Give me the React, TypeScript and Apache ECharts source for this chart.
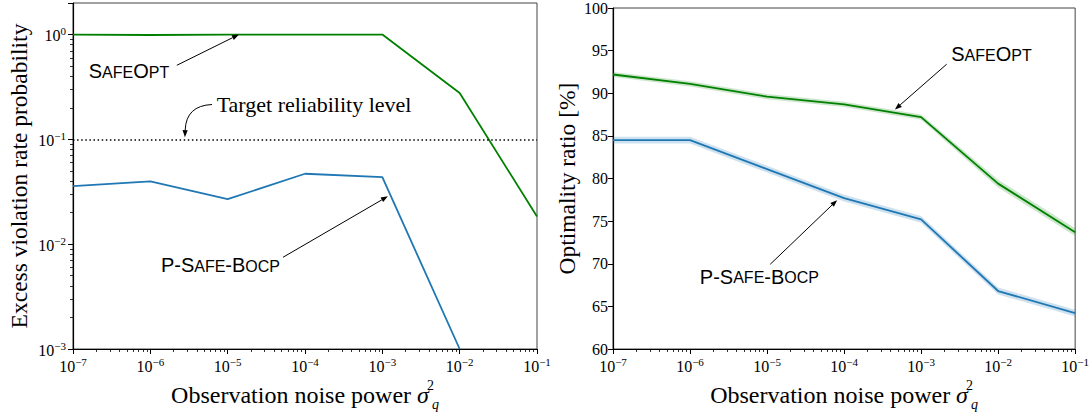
import React, { useEffect, useRef } from 'react';
import * as echarts from 'echarts';

// ---------- data ----------
const noisePower = [1e-7, 1e-6, 1e-5, 1e-4, 1e-3, 1e-2, 1e-1];

// left panel: excess violation rate probability
const violSafeOpt = [1.0, 0.99, 1.0, 1.0, 1.0, 0.277, 0.0184];
const violPSafeBocp: (number | null)[] = [0.0358, 0.0397, 0.0269, 0.047, 0.0436, 0.001, null];
const targetReliability = 0.1;

// right panel: optimality ratio [%]
const optSafeOpt = [92.2, 91.1, 89.6, 88.7, 87.2, 79.4, 73.7];
const optSafeOptLo = [91.9, 90.8, 89.3, 88.4, 86.9, 78.95, 73.25];
const optSafeOptHi = [92.5, 91.4, 89.9, 89.0, 87.5, 79.85, 74.15];
const optPSafeBocp = [84.5, 84.5, 81.1, 77.7, 75.2, 66.8, 64.2];
const optPSafeBocpLo = [84.1, 84.1, 80.7, 77.3, 74.8, 66.4, 63.8];
const optPSafeBocpHi = [84.9, 84.9, 81.5, 78.1, 75.6, 67.2, 64.6];

// annotations (data coordinates)
const annotations = [
  { grid: 0, label: 'safeopt', textAt: [5.3e-7, 0.446], from: [2.2e-6, 0.509], to: [1.4e-5, 1.0] },
  { grid: 0, label: 'target', textAt: [1.31e-4, 0.213], from: [6.27e-6, 0.215], ctrl: [2.9e-6, 0.21], to: [2.8e-6, 0.105] },
  { grid: 0, label: 'psafe', textAt: [8.07e-6, 0.0063], from: [5.19e-5, 0.0075], to: [1.18e-3, 0.0286] },
  { grid: 1, label: 'safeopt', textAt: [8.2e-3, 94.6], from: [2.15e-3, 93.41], to: [4.57e-4, 88.09] },
  { grid: 1, label: 'psafe', textAt: [7.96e-6, 68.47], from: [1.1e-5, 69.94], to: [8.13e-5, 77.46] },
];

const GREEN = '#008000';
const BLUE = '#1f77b4';
const SERIF = "'Liberation Serif', 'DejaVu Serif', serif";
const SANS = "'Liberation Sans', 'DejaVu Sans', sans-serif";

const pairs = (xs: number[], ys: (number | null)[]) => xs.map((x, i) => [x, ys[i]]);

const powLabel = (v: number) => {
  const l = Math.log10(v);
  const e = Math.round(l);
  if (Math.abs(l - e) > 1e-6) return '';
  return `{b|10}{s|${e < 0 ? '\u2212' : ''}${Math.abs(e)}}`;
};

const powRich = {
  b: { fontFamily: SERIF, fontSize: 16, color: '#000', verticalAlign: 'bottom', padding: [0, 0, 0, 0] },
  s: { fontFamily: SERIF, fontSize: 11, color: '#000', verticalAlign: 'bottom', padding: [0, 0, 7, 0] },
};

const nameRich = {
  t: { fontFamily: SERIF, fontSize: 24, lineHeight: 33, color: '#000', verticalAlign: 'middle' },
  sig: { fontFamily: SERIF, fontSize: 24, lineHeight: 33, fontStyle: 'italic', color: '#000', verticalAlign: 'middle' },
  sup: { fontFamily: SERIF, fontSize: 14, lineHeight: 14, color: '#000', verticalAlign: 'top', padding: [0, 0, 0, 1], width: 1, align: 'left' },
  sub: { fontFamily: SERIF, fontSize: 14, lineHeight: 14, fontStyle: 'italic', color: '#000', verticalAlign: 'bottom', padding: [0, 0, 0, 1] },
};

const smallCapsRich = {
  B: { fontFamily: SANS, fontSize: 20, color: '#000', verticalAlign: 'bottom' },
  s: { fontFamily: SANS, fontSize: 16, color: '#000', verticalAlign: 'bottom', padding: [0, 0, 1, 0] },
};

const labelTexts: Record<string, any> = {
  safeopt: { text: '{B|S}{s|AFE}{B|O}{s|PT}', rich: smallCapsRich },
  psafe: { text: '{B|P-S}{s|AFE}{B|-B}{s|OCP}', rich: smallCapsRich },
  target: { text: 'Target reliability level', fontFamily: SERIF, fontSize: 22 },
};

const xAxisCommon = (gridIndex: number) => ({
  type: 'log' as const,
  logBase: 10,
  gridIndex,
  min: 1e-7,
  max: 1e-1,
  name: '{t|Observation noise power }{sig|\u03c3}{sup|2}{sub|q}',
  nameLocation: 'middle' as const,
  nameGap: 25,
  nameTextStyle: { rich: nameRich },
  axisLine: { show: true, lineStyle: { color: '#000', width: 1.2 } },
  axisTick: { show: true, length: 5, lineStyle: { color: '#000', width: 1 } },
  minorTick: { show: true, splitNumber: 9, length: 3, lineStyle: { color: '#000', width: 0.8 } },
  splitLine: { show: false },
  minorSplitLine: { show: false },
  axisLabel: { formatter: powLabel, rich: powRich, margin: 7 },
});

const bandSeries = (lo: number[], hi: number[], color: string) => ({
  type: 'custom',
  xAxisIndex: 1,
  yAxisIndex: 1,
  silent: true,
  clip: true,
  z: 2,
  data: [[noisePower[0], lo[0]]],
  renderItem: (_params: any, api: any) => {
    const pts: number[][] = [];
    noisePower.forEach((x, i) => pts.push(api.coord([x, hi[i]])));
    for (let i = noisePower.length - 1; i >= 0; i--) pts.push(api.coord([noisePower[i], lo[i]]));
    return { type: 'polygon', shape: { points: pts }, style: { fill: color } };
  },
});

export default function App() {
  const ref = useRef<HTMLDivElement>(null);
  useEffect(() => {
    if (!ref.current) return;
    const chart = echarts.init(ref.current, undefined, { renderer: 'svg' });
    const option: any = {
      animation: false,
      backgroundColor: '#fff',
      grid: [
        { left: 73, top: 3, width: 464, height: 346, show: true, borderColor: '#444', borderWidth: 1, backgroundColor: 'transparent' },
        { left: 613, top: 3, width: 464, height: 346, show: true, borderColor: '#444', borderWidth: 1, backgroundColor: 'transparent' },
      ],
      xAxis: [xAxisCommon(0), xAxisCommon(1)],
      yAxis: [
        {
          type: 'log',
          logBase: 10,
          gridIndex: 0,
          min: 0.001,
          max: 2,
          name: 'Excess violation rate probability',
          nameLocation: 'middle',
          nameGap: 42,
          nameTextStyle: { fontFamily: SERIF, fontSize: 23.5, color: '#000' },
          axisLine: { show: true, lineStyle: { color: '#000', width: 1.2 } },
          axisTick: { show: true, length: 5, lineStyle: { color: '#000', width: 1 } },
          minorTick: { show: true, splitNumber: 9, length: 3, lineStyle: { color: '#000', width: 0.8 } },
          splitLine: { show: false },
          axisLabel: { formatter: powLabel, rich: powRich, margin: 7 },
        },
        {
          type: 'value',
          gridIndex: 1,
          min: 60,
          max: 100,
          interval: 5,
          name: 'Optimality ratio [%]',
          nameLocation: 'middle',
          nameGap: 34,
          nameTextStyle: { fontFamily: SERIF, fontSize: 23.5, color: '#000' },
          axisLine: { show: true, lineStyle: { color: '#000', width: 1.2 } },
          axisTick: { show: true, length: 5, lineStyle: { color: '#000', width: 1 } },
          splitLine: { show: false },
          axisLabel: { fontFamily: SERIF, fontSize: 16, color: '#000', margin: 5 },
        },
      ],
      series: [
        {
          name: 'SafeOpt violation',
          type: 'line',
          xAxisIndex: 0,
          yAxisIndex: 0,
          data: pairs(noisePower, violSafeOpt),
          symbol: 'none',
          lineStyle: { color: GREEN, width: 1.8 },
          clip: true,
          markLine: {
            silent: true,
            symbol: ['none', 'none'],
            label: { show: false },
            lineStyle: { color: '#000', width: 1.6, type: [1.5, 2.6] },
            data: [{ yAxis: targetReliability }],
          },
          z: 3,
        },
        {
          name: 'P-Safe-BOCP violation',
          type: 'line',
          xAxisIndex: 0,
          yAxisIndex: 0,
          data: pairs(noisePower, violPSafeBocp),
          symbol: 'none',
          lineStyle: { color: BLUE, width: 1.8 },
          clip: true,
          z: 3,
        },
        { name: 'SafeOpt band', ...bandSeries(optSafeOptLo, optSafeOptHi, 'rgba(0,128,0,0.2)') },
        { name: 'P-Safe-BOCP band', ...bandSeries(optPSafeBocpLo, optPSafeBocpHi, 'rgba(31,119,180,0.22)') },
        {
          name: 'SafeOpt optimality',
          type: 'line',
          xAxisIndex: 1,
          yAxisIndex: 1,
          data: pairs(noisePower, optSafeOpt),
          symbol: 'none',
          lineStyle: { color: GREEN, width: 1.8 },
          z: 3,
        },
        {
          name: 'P-Safe-BOCP optimality',
          type: 'line',
          xAxisIndex: 1,
          yAxisIndex: 1,
          data: pairs(noisePower, optPSafeBocp),
          symbol: 'none',
          lineStyle: { color: BLUE, width: 1.8 },
          z: 3,
        },
      ],
    };
    chart.setOption(option);

    const toPx = (g: number, p: number[]) =>
      chart.convertToPixel({ xAxisIndex: g, yAxisIndex: g }, p) as number[];

    const elements: any[] = [];
    const arrowHead = (tip: number[], from: number[]) => {
      const dx = tip[0] - from[0];
      const dy = tip[1] - from[1];
      const len = Math.hypot(dx, dy) || 1;
      const ux = dx / len, uy = dy / len;
      const L = 7, W = 2.6;
      const bx = tip[0] - ux * L, by = tip[1] - uy * L;
      elements.push({
        type: 'polygon',
        shape: { points: [tip, [bx - uy * W, by + ux * W], [bx + uy * W, by - ux * W]] },
        style: { fill: '#000' },
        z: 10,
      });
      return [bx, by];
    };

    annotations.forEach((a) => {
      const t = toPx(a.grid, a.textAt);
      const f = toPx(a.grid, a.from);
      const e = toPx(a.grid, a.to);
      const lt = labelTexts[a.label];
      elements.push({
        type: 'text',
        x: t[0],
        y: t[1],
        style: { ...lt, fill: '#000', align: 'center', verticalAlign: 'middle' },
        z: 10,
      });
      if ((a as any).ctrl) {
        const c = toPx(a.grid, (a as any).ctrl);
        const base = arrowHead(e, c);
        elements.push({
          type: 'bezierCurve',
          shape: { x1: f[0], y1: f[1], x2: base[0], y2: base[1], cpx1: c[0], cpy1: c[1] },
          style: { stroke: '#000', lineWidth: 1, fill: null },
          z: 10,
        });
      } else {
        const base = arrowHead(e, f);
        elements.push({
          type: 'line',
          shape: { x1: f[0], y1: f[1], x2: base[0], y2: base[1] },
          style: { stroke: '#000', lineWidth: 1 },
          z: 10,
        });
      }
    });
    chart.setOption({ graphic: elements });

    return () => chart.dispose();
  }, []);
  return (
    <div
      ref={ref}
      style={{ position: 'fixed', left: 0, top: 0, width: 1092, height: 419, background: '#fff' }}
    />
  );
}
